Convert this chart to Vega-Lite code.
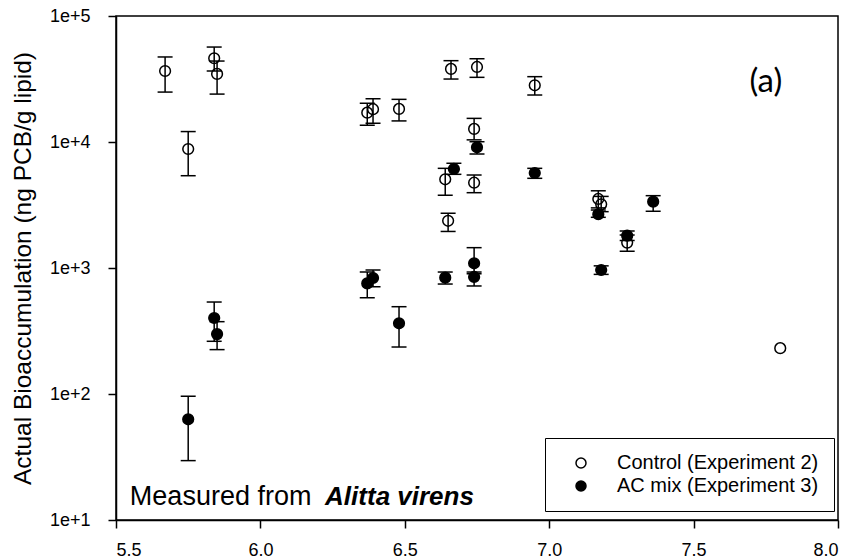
{
  "$schema": "https://vega.github.io/schema/vega-lite/v6.json",
  "width": 722,
  "height": 504,
  "autosize": {"type": "none"},
  "padding": {"left": 116, "top": 16, "right": 18, "bottom": 40},
  "background": "white",
  "config": {
    "view": {"stroke": "black", "strokeWidth": 1.5},
    "axis": {
      "grid": false,
      "domainColor": "black",
      "domainWidth": 1.5,
      "tickColor": "black",
      "tickWidth": 1.5,
      "tickSize": 8,
      "labelFont": "Liberation Sans",
      "labelFontSize": 18,
      "labelColor": "black",
      "titleFont": "Liberation Sans",
      "titleFontWeight": "normal",
      "titleColor": "black"
    },
    "legend": {
      "labelFont": "Liberation Sans",
      "labelFontSize": 20,
      "labelColor": "black",
      "labelLimit": 400
    }
  },
  "datasets": {
    "pts": [
      {"group": "Control (Experiment 2)", "x": 5.67, "y": 36600, "lo": 24900, "hi": 47300},
      {"group": "Control (Experiment 2)", "x": 5.75, "y": 8800, "lo": 5400, "hi": 12100},
      {"group": "Control (Experiment 2)", "x": 5.84, "y": 46200, "lo": 36600, "hi": 56700},
      {"group": "Control (Experiment 2)", "x": 5.85, "y": 34700, "lo": 24000, "hi": 43900},
      {"group": "Control (Experiment 2)", "x": 6.37, "y": 17100, "lo": 13600, "hi": 20300},
      {"group": "Control (Experiment 2)", "x": 6.39, "y": 18200, "lo": 14100, "hi": 22000},
      {"group": "Control (Experiment 2)", "x": 6.48, "y": 18300, "lo": 14700, "hi": 21800},
      {"group": "Control (Experiment 2)", "x": 6.66, "y": 38000, "lo": 31600, "hi": 44200},
      {"group": "Control (Experiment 2)", "x": 6.75, "y": 39400, "lo": 32600, "hi": 45800},
      {"group": "Control (Experiment 2)", "x": 6.95, "y": 28200, "lo": 23600, "hi": 33000},
      {"group": "Control (Experiment 2)", "x": 6.74, "y": 12700, "lo": 10400, "hi": 15400},
      {"group": "Control (Experiment 2)", "x": 6.64, "y": 5060, "lo": 3780, "hi": 6180},
      {"group": "Control (Experiment 2)", "x": 6.74, "y": 4750, "lo": 3960, "hi": 5470},
      {"group": "Control (Experiment 2)", "x": 6.65, "y": 2370, "lo": 1950, "hi": 2720},
      {"group": "Control (Experiment 2)", "x": 7.17, "y": 3530, "lo": 3000, "hi": 4100},
      {"group": "Control (Experiment 2)", "x": 7.18, "y": 3200, "lo": 2800, "hi": 3700},
      {"group": "Control (Experiment 2)", "x": 7.27, "y": 1590, "lo": 1360, "hi": 1830},
      {"group": "Control (Experiment 2)", "x": 7.80, "y": 231},
      {"group": "AC mix (Experiment 3)", "x": 5.75, "y": 63, "lo": 29.6, "hi": 96},
      {"group": "AC mix (Experiment 3)", "x": 5.84, "y": 401, "lo": 262, "hi": 537},
      {"group": "AC mix (Experiment 3)", "x": 5.85, "y": 299, "lo": 225, "hi": 375},
      {"group": "AC mix (Experiment 3)", "x": 6.37, "y": 755, "lo": 581, "hi": 929},
      {"group": "AC mix (Experiment 3)", "x": 6.39, "y": 833, "lo": 711, "hi": 964},
      {"group": "AC mix (Experiment 3)", "x": 6.48, "y": 364, "lo": 236, "hi": 493},
      {"group": "AC mix (Experiment 3)", "x": 6.64, "y": 838, "lo": 746, "hi": 929},
      {"group": "AC mix (Experiment 3)", "x": 6.74, "y": 1090, "lo": 900, "hi": 1450},
      {"group": "AC mix (Experiment 3)", "x": 6.74, "y": 849, "lo": 720, "hi": 929},
      {"group": "AC mix (Experiment 3)", "x": 6.67, "y": 6110, "lo": 5540, "hi": 6780},
      {"group": "AC mix (Experiment 3)", "x": 6.75, "y": 9080, "lo": 8030, "hi": 10050},
      {"group": "AC mix (Experiment 3)", "x": 6.95, "y": 5675, "lo": 5150, "hi": 6180},
      {"group": "AC mix (Experiment 3)", "x": 7.17, "y": 2670, "lo": 2525, "hi": 2885},
      {"group": "AC mix (Experiment 3)", "x": 7.18, "y": 964, "lo": 890, "hi": 1040},
      {"group": "AC mix (Experiment 3)", "x": 7.27, "y": 1805, "lo": 1650, "hi": 1967},
      {"group": "AC mix (Experiment 3)", "x": 7.36, "y": 3360, "lo": 2820, "hi": 3750}
    ],
    "notes": [
      {"note": "Measured from"}
    ],
    "species": [
      {"note": "Alitta virens"}
    ],
    "panel": [
      {"note": "(a)"}
    ]
  },
  "layer": [
    {
      "data": {"name": "pts"},
      "mark": {"type": "point", "shape": "circle", "size": 115, "stroke": "black", "strokeWidth": 1.5, "opacity": 1, "fillOpacity": 1},
      "encoding": {
        "x": {
          "field": "x", "type": "quantitative",
          "scale": {"domain": [5.5, 8.0], "nice": false, "zero": false},
          "axis": {"values": [5.5, 6.0, 6.5, 7.0, 7.5, 8.0], "format": ".1f", "title": null, "labelPadding": 13}
        },
        "y": {
          "field": "y", "type": "quantitative",
          "scale": {"type": "log", "domain": [10, 100000], "nice": false},
          "axis": {
            "values": [10, 100, 1000, 10000, 100000],
            "labelExpr": "'1e+' + round(log(datum.value) / LN10)",
            "title": "Actual Bioaccumulation (ng PCB/g lipid)",
            "titleFontSize": 24.5,
            "labelPadding": 18,
            "titlePadding": 14
          }
        },
        "fill": {
          "field": "group", "type": "nominal",
          "scale": {"domain": ["Control (Experiment 2)", "AC mix (Experiment 3)"], "range": ["rgba(255,255,255,0)", "black"]},
          "legend": {
            "title": null,
            "orient": "none",
            "legendX": 429,
            "legendY": 422,
            "direction": "vertical",
            "strokeColor": "black",
            "fillColor": "white",
            "padding": 15,
            "symbolType": "circle",
            "symbolSize": 100,
            "symbolStrokeColor": "black",
            "symbolStrokeWidth": 1.5,
            "symbolOffset": 11,
            "labelOffset": 26,
            "clipHeight": 20,
            "rowPadding": 3
          }
        }
      }
    },
    {
      "data": {"name": "pts"},
      "transform": [{"filter": "isValid(datum.lo)"}],
      "mark": {"type": "rule", "color": "black", "strokeWidth": 1.5},
      "encoding": {
        "x": {"field": "x", "type": "quantitative"},
        "y": {"field": "lo", "type": "quantitative"},
        "y2": {"field": "hi"}
      }
    },
    {
      "data": {"name": "pts"},
      "transform": [{"filter": "isValid(datum.lo)"}],
      "mark": {"type": "tick", "orient": "horizontal", "size": 15, "thickness": 1.5, "color": "black", "opacity": 1},
      "encoding": {
        "x": {"field": "x", "type": "quantitative"},
        "y": {"field": "lo", "type": "quantitative"}
      }
    },
    {
      "data": {"name": "pts"},
      "transform": [{"filter": "isValid(datum.hi)"}],
      "mark": {"type": "tick", "orient": "horizontal", "size": 15, "thickness": 1.5, "color": "black", "opacity": 1},
      "encoding": {
        "x": {"field": "x", "type": "quantitative"},
        "y": {"field": "hi", "type": "quantitative"}
      }
    },
    {
      "data": {"name": "notes"},
      "mark": {"type": "text", "font": "Liberation Sans", "fontSize": 27, "align": "left", "baseline": "alphabetic", "color": "black"},
      "encoding": {
        "text": {"field": "note"},
        "x": {"datum": 5.548, "type": "quantitative"},
        "y": {"datum": 13.2, "type": "quantitative"}
      }
    },
    {
      "data": {"name": "species"},
      "mark": {"type": "text", "font": "Liberation Sans", "fontSize": 26, "fontWeight": "bold", "fontStyle": "italic", "align": "left", "baseline": "alphabetic", "color": "black"},
      "encoding": {
        "text": {"field": "note"},
        "x": {"datum": 6.224, "type": "quantitative"},
        "y": {"datum": 13.2, "type": "quantitative"}
      }
    },
    {
      "data": {"name": "panel"},
      "mark": {"type": "text", "font": "Lato", "fontSize": 33, "align": "center", "baseline": "alphabetic", "color": "black"},
      "encoding": {
        "text": {"field": "note"},
        "x": {"datum": 7.75, "type": "quantitative"},
        "y": {"datum": 25000, "type": "quantitative"}
      }
    }
  ]
}
